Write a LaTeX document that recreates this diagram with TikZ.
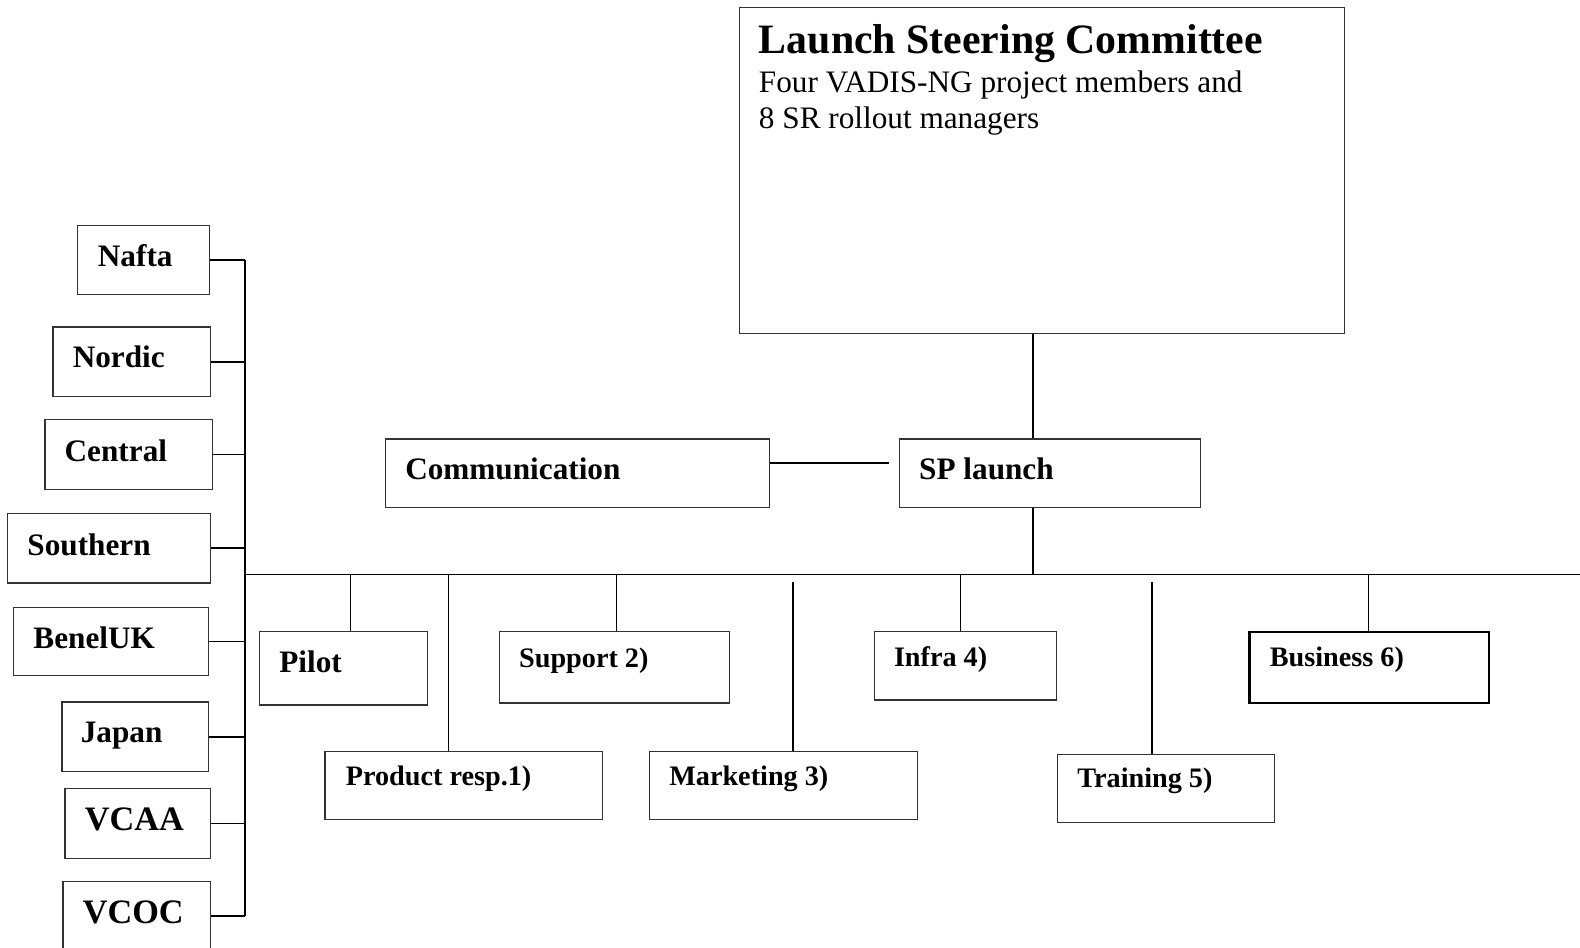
\documentclass[tikz,border=0pt]{standalone}
\usepackage{fontspec}
\setmainfont{Liberation Serif}

\begin{document}
\begin{tikzpicture}[
			x=1pt, y=-1pt,
			box/.style={rectangle, draw=black!80, line width=1.2pt, anchor=north west, inner sep=0pt},
			conn/.style={line width=1.6pt},
			lbl/.style={anchor=base west, inner sep=0pt, font=\fontsize{31}{36}\selectfont\bfseries},
			sublbl/.style={lbl, font=\fontsize{28}{33}\selectfont\bfseries}
			]
			\useasboundingbox (0,0) rectangle (1568,940);
			
			% committee and launch
			\node[box] (lsc) [minimum width=601, minimum height=323] at (733,7) {};
			\node[lbl] (lsc-t) [font=\fontsize{41.5}{46}\selectfont\bfseries] at (753,53) {Launch Steering Committee};
			\node[lbl] (lsc-a) [font=\fontsize{31}{36}\selectfont] at (753,92) {Four VADIS-NG project members and};
			\node[lbl] (lsc-b) [font=\fontsize{31}{36}\selectfont] at (753,128) {8 SR rollout managers};
			\node[box] (comm) [minimum width=381, minimum height=68] at (382,435) {};
			\node[lbl] (comm-t) at (402,476) {Communication};
			\node[box] (sp) [minimum width=299, minimum height=68] at (892,435) {};
			\node[lbl] (sp-t) at (912,476) {SP launch};
			
			% regions
			\node[box] (nafta) [minimum width=131, minimum height=69] at (76,223) {};
			\node[lbl] (nafta-t) at (97,264) {Nafta};
			\node[box] (nordic) [minimum width=156, minimum height=69] at (52,324) {};
			\node[lbl] (nordic-t) at (72,365) {Nordic};
			\node[box] (central) [minimum width=166, minimum height=69] at (44,416) {};
			\node[lbl] (central-t) at (64,458) {Central};
			\node[box] (southern) [minimum width=201, minimum height=69] at (7,509) {};
			\node[lbl] (southern-t) at (27,551) {Southern};
			\node[box] (benel) [minimum width=193, minimum height=68] at (13,602) {};
			\node[lbl] (benel-t) at (33,644) {BenelUK};
			\node[box] (japan) [minimum width=145, minimum height=69] at (61,696) {};
			\node[lbl] (japan-t) at (80,737) {Japan};
			\node[box] (vcaa) [minimum width=144, minimum height=69] at (64,782) {};
			\node[lbl] (vcaa-t) [font=\fontsize{34}{40}\selectfont\bfseries] at (84,824) {VCAA};
			\node[box] (vcoc) [minimum width=146, minimum height=69] at (62,874) {};
			\node[lbl] (vcoc-t) [font=\fontsize{34}{40}\selectfont\bfseries] at (82,916) {VCOC};
			
			% work streams
			\node[box] (pilot) [minimum width=167, minimum height=73] at (257,626) {};
			\node[lbl] (pilot-t) at (277,667) {Pilot};
			\node[box] (support) [minimum width=228, minimum height=71] at (495,626) {};
			\node[sublbl] (support-t) at (515,662) {Support 2)};
			\node[box] (infra) [minimum width=181, minimum height=68] at (867,626) {};
			\node[sublbl] (infra-t) at (887,661) {Infra 4)};
			\node[box] (business) [minimum width=238, minimum height=71, draw=black, line width=2pt] at (1239,626) {};
			\node[sublbl] (business-t) at (1260,661) {Business 6)};
			\node[box] (product) [minimum width=275, minimum height=68] at (322,745) {};
			\node[sublbl] (product-t) at (343,780) {Product resp.1)};
			\node[box] (marketing) [minimum width=266, minimum height=68] at (644,745) {};
			\node[sublbl] (marketing-t) at (664,780) {Marketing 3)};
			\node[box] (training) [minimum width=215, minimum height=68] at (1049,748) {};
			\node[sublbl] (training-t) at (1069,782) {Training 5)};
			
			% bus lines
			\coordinate (bus-l) at (243,570);
			\coordinate (bus-r) at (1570,570);
			\coordinate (spine) at (1025,570);
			\draw[conn] (bus-l) -- (bus-r);
			\draw[conn] (nafta.east -| bus-l) -- (vcoc.east -| bus-l);
			\foreach \r in {nafta,nordic,central,southern,benel,japan,vcaa,vcoc}
				\draw[conn] (\r.east) -- (\r.east -| bus-l);
			\draw[conn] (spine |- lsc.south) -- (spine |- sp.north);
			\draw[conn] (spine |- sp.south) -- (spine);
			\draw[conn] ([yshift=10pt]comm.east) -- ([yshift=10pt, xshift=-10pt]sp.west);
			
			% drops
			\coordinate (d-pilot) at (348,570);
			\coordinate (d-product) at (445,570);
			\coordinate (d-support) at (612,570);
			\coordinate (d-marketing) at (787,578);
			\coordinate (d-infra) at (953,570);
			\coordinate (d-training) at (1143,578);
			\coordinate (d-business) at (1358,570);
			\foreach \w in {pilot,product,support,marketing,infra,training,business}
				\draw[conn] (d-\w) -- (d-\w |- \w.north);
		\end{tikzpicture}
\end{document}
